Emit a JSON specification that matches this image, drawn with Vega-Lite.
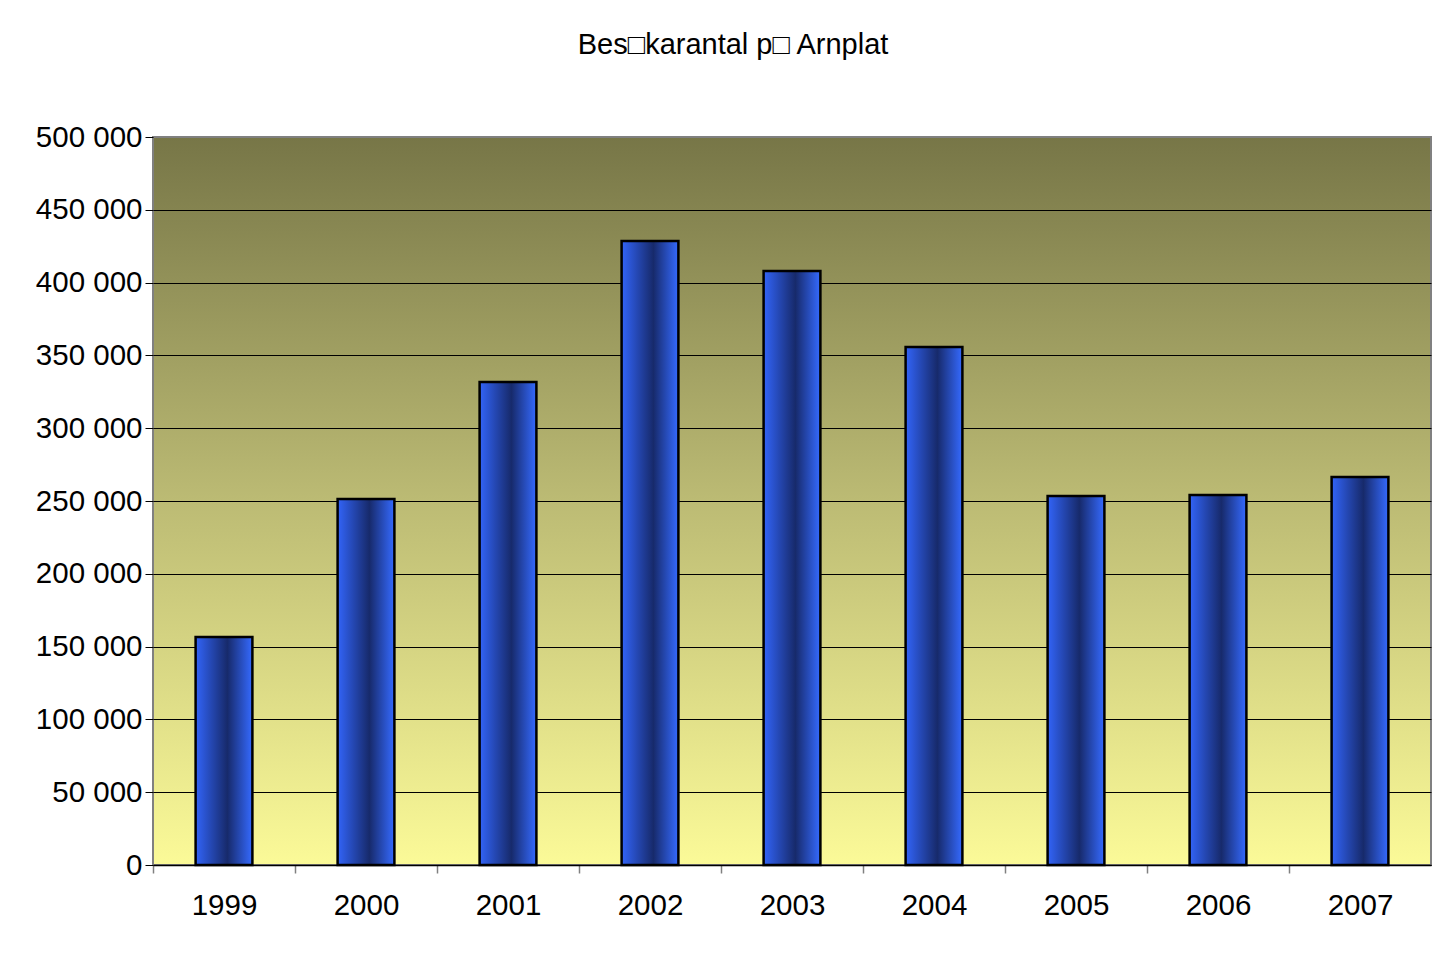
{
  "$schema": "https://vega.github.io/schema/vega-lite/v6.json",
  "autosize": {"type": "none"},
  "padding": {"left": 153, "top": 137, "right": 20, "bottom": 88},
  "width": 1278,
  "height": 728,
  "background": "white",
  "view": {
    "fill": {"gradient": "linear", "x1": 0, "y1": 0, "x2": 0, "y2": 1,
      "stops": [{"offset": 0, "color": "#777647"}, {"offset": 0.5, "color": "#bcbb74"}, {"offset": 1, "color": "#fbfa98"}]},
    "stroke": "#808080",
    "strokeWidth": 2
  },
  "title": {
    "text": "Bes□karantal p□ Arnplat",
    "font": "Liberation Sans",
    "fontSize": 29,
    "fontWeight": "normal",
    "color": "black",
    "anchor": "middle",
    "dx": -59,
    "offset": 62
  },
  "data": {
    "values": [
      {"year": "1999", "visitors": 156600},
      {"year": "2000", "visitors": 251400},
      {"year": "2001", "visitors": 331700},
      {"year": "2002", "visitors": 428600},
      {"year": "2003", "visitors": 408000},
      {"year": "2004", "visitors": 355800},
      {"year": "2005", "visitors": 253400},
      {"year": "2006", "visitors": 254100},
      {"year": "2007", "visitors": 266500}
    ]
  },
  "mark": {
    "type": "bar",
    "stroke": "black",
    "strokeWidth": 2.5,
    "color": {"gradient": "linear", "x1": 0, "y1": 0, "x2": 1, "y2": 0,
      "stops": [{"offset": 0, "color": "#3264f8"}, {"offset": 0.56, "color": "#172a6b"}, {"offset": 1, "color": "#356aff"}]}
  },
  "encoding": {
    "x": {
      "field": "year", "type": "ordinal",
      "scale": {"paddingInner": 0.6, "paddingOuter": 0.3},
      "axis": {
        "title": null, "labelAngle": 0,
        "labelFont": "Liberation Sans", "labelFontSize": 29.5, "labelColor": "black",
        "labelPadding": 18,
        "tickOffset": -71, "labelOffset": 71,
        "tickSize": 8, "tickColor": "#808080", "tickWidth": 1.5,
        "domain": true, "domainColor": "black", "domainWidth": 1.5,
        "grid": false
      }
    },
    "y": {
      "field": "visitors", "type": "quantitative",
      "scale": {"domain": [0, 500000], "nice": false},
      "axis": {
        "title": null, "values": [0, 50000, 100000, 150000, 200000, 250000, 300000, 350000, 400000, 450000, 500000],
        "labelExpr": "replace(format(datum.value, ','), /,/g, ' ')",
        "labelFont": "Liberation Sans", "labelFontSize": 29.5, "labelColor": "black",
        "labelPadding": 3,
        "tickSize": 8, "tickColor": "black", "tickWidth": 1,
        "domain": false,
        "grid": true,
        "gridColor": {"condition": {"test": "datum.value === 500000", "value": "#808080"}, "value": "black"},
        "gridWidth": 1, "gridOpacity": 1
      }
    }
  }
}
